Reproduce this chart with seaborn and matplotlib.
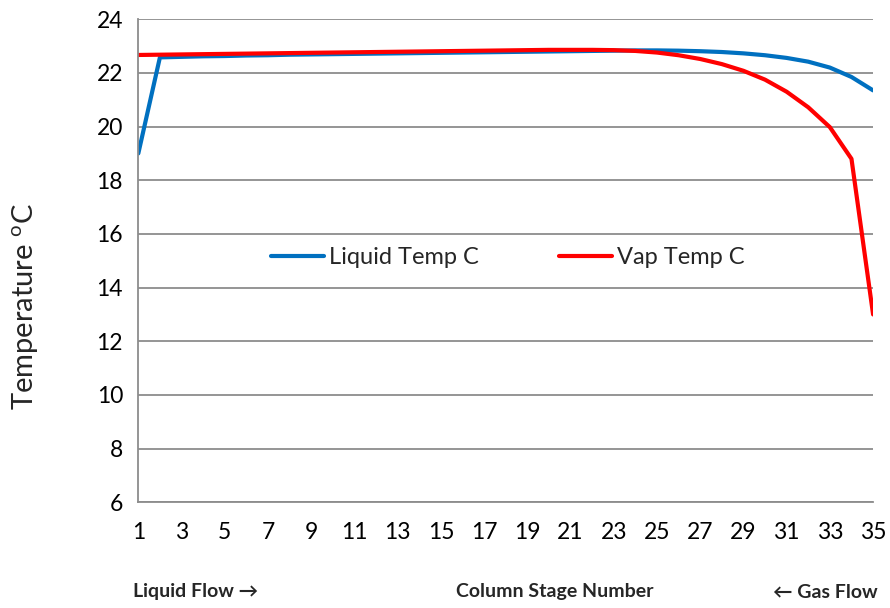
import matplotlib
matplotlib.use("Agg")
import matplotlib.pyplot as plt
import seaborn as sns
import pandas as pd

# Column stage temperature profiles
stages = list(range(1, 36))
liquid_temp = [19.0, 22.58, 22.6, 22.62, 22.63, 22.65, 22.66, 22.68, 22.69, 22.7,
               22.71, 22.72, 22.73, 22.74, 22.75, 22.76, 22.77, 22.78, 22.79, 22.8,
               22.81, 22.82, 22.83, 22.84, 22.84, 22.83, 22.81, 22.78, 22.73, 22.66,
               22.56, 22.42, 22.2, 21.85, 21.35]
vap_temp = [22.67, 22.68, 22.69, 22.7, 22.71, 22.72, 22.73, 22.74, 22.75, 22.76,
            22.77, 22.78, 22.79, 22.8, 22.81, 22.82, 22.83, 22.84, 22.85, 22.86,
            22.86, 22.86, 22.85, 22.82, 22.76, 22.66, 22.52, 22.33, 22.08, 21.75,
            21.3, 20.72, 19.98, 18.8, 13.0]
series_names = ["Liquid Temp C", "Vap Temp C"]
series_colors = ["#0070C0", "#FF0000"]
y_ticks = list(range(6, 25, 2))
x_tick_labels = list(range(1, 36, 2))

df = pd.DataFrame({
    "stage": stages * 2,
    "temp": liquid_temp + vap_temp,
    "series": [series_names[0]] * len(stages) + [series_names[1]] * len(stages),
})

sns.set_style("white")
plt.rcParams["font.family"] = ["Lato", "DejaVu Sans"]
grid_color = "#8C8C8C"

fig = plt.figure(figsize=(8.9, 6.08), dpi=100)
ax = fig.add_axes([0.1554, 0.1738, 0.981 - 0.1554, 0.9683 - 0.1738])

sns.lineplot(data=df, x="stage", y="temp", hue="series", hue_order=series_names,
             palette=series_colors, linewidth=3.0, ax=ax, legend=False,
             solid_capstyle="round", solid_joinstyle="round")

ax.set_xlim(1, 35)
ax.set_ylim(6, 24)
ax.set_yticks(y_ticks)
ax.set_xticks(stages, minor=True)
ax.set_xticks(x_tick_labels)
ax.tick_params(axis="both", which="both", direction="out", color=grid_color,
               width=1.2, length=6, labelsize=16.5, labelcolor="#000000")
ax.tick_params(axis="x", which="major", pad=8)
ax.tick_params(axis="y", which="major", pad=5)
ax.yaxis.grid(True, color=grid_color, linewidth=1.3)
ax.set_axisbelow(True)
for side in ["top", "right"]:
    ax.spines[side].set_visible(False)
for side in ["left", "bottom"]:
    ax.spines[side].set_color(grid_color)
    ax.spines[side].set_linewidth(1.3)

ax.set_xlabel("")
ax.set_ylabel("")
fig.text(26 / 890, 1 - 307 / 608, "Temperature $^{\\mathregular{o}}$C", fontsize=21,
         rotation=90, ha="center", va="center")

handles = [plt.Line2D([], [], color=c, linewidth=3.0, solid_capstyle="round")
           for c in series_colors]
ax.legend(handles, series_names, ncol=2, loc="center", bbox_to_anchor=(0.503, 0.506),
          frameon=False, fontsize=17, handlelength=2.25, handletextpad=0.2,
          columnspacing=3.4)

fig.text(133 / 890, 1 - 592 / 608, "Liquid Flow \u2192", fontsize=14, fontweight="bold",
         ha="left", va="center")
fig.text(555 / 890, 1 - 592 / 608, "Column Stage Number", fontsize=14, fontweight="bold",
         ha="center", va="center")
fig.text(878 / 890, 1 - 592 / 608, "\u2190 Gas Flow", fontsize=14, fontweight="bold",
         ha="right", va="center")

fig.savefig("out.png", dpi=100)
